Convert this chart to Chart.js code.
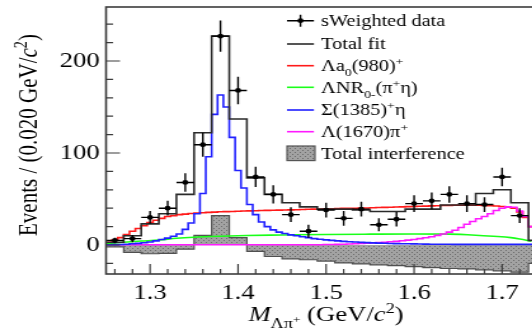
<!DOCTYPE html>
<html><head><meta charset="utf-8">
<script src="https://cdn.jsdelivr.net/npm/chart.js@4/dist/chart.umd.min.js"></script>
<style>
html,body{margin:0;padding:0;overflow:hidden;background:#fff;width:532px;height:330px;}
#wrap{width:440px;height:330px;transform:scaleX(1.27);transform-origin:0 0;}
canvas{display:block;}
</style></head><body>
<div id="wrap"><canvas id="c" width="440" height="330"></canvas></div>
<script>
// ---------------- data ----------------
const binCenters = [1.26,1.28,1.30,1.32,1.34,1.36,1.38,1.40,1.42,1.44,1.46,1.48,1.50,1.52,1.54,1.56,1.58,1.60,1.62,1.64,1.66,1.68,1.70,1.72];
const dataEvents = [5,7,30,40,68,109,227,168,74,55,33,15,38,29,39,22,28,45,48,55,45,44,74,32];
const dataErrors = [3,4,7,8,10,13,17,15,11,10,8,7,8,8,8,7,8,9,9,9,9,8,10,8];

const fitCenters = [1.26,1.28,1.30,1.32,1.34,1.36,1.38,1.40,1.42,1.44,1.46,1.48,1.50,1.52,1.54,1.56,1.58,1.60,1.62,1.64,1.66,1.68,1.70,1.72,1.74];
const totalFit = [3,10,23,34,55,122,227,137,73,55,46,41.5,39,39,38,36.5,36.5,39,39,43.5,43.5,56,60,46,5];
const totalInterference = [-2,-8,-9.5,-9,-4.5,10.5,32,8,-7,-12.5,-15,-16,-17.5,-19.5,-20.5,-21.5,-22.5,-23.5,-24.5,-25.5,-26,-27,-28,-29.5,-20];

// component curves on the fine (0.02/3) sub-bin grid, starting at 1.25
const sigma1385Eta = [0.3,0.4,0.6,0.9,1.3,1.8,2.5,3.3,4.5,6,
  7.5,9.5,12,17,24,34,56,96,142,163,
  150,117,81,62,44,33,25,20,16.5,14,
  12.5,11,10,9,8,7,6.3,5.6,5,4.5,
  4,3.6,3.2,2.9,2.6,2.3,2.1,1.9,1.7,1.5,
  1.4,1.3,1.2,1.1,1,0.9,0.9,0.8,0.8,0.7,
  0.7,0.7,0.7,0.7,0.7,0.7,0.7,0.7,0.7,0.7,
  0.7,0.7,0.7];
const lambdaA0 = [3,5.5,8,11.5,15,18,21,24.5,27,29,
  31,32,33,33.6,34.2,34.7,35.1,35.5,35.8,36.1,
  36.3,36.5,36.7,36.9,37.1,37.3,37.5,37.6,37.8,37.9,
  38,38.2,38.4,38.6,38.8,39,39.2,39.4,39.5,39.6,
  39.8,39.9,40,40.2,40.3,40.5,40.7,40.9,41.1,41.3,
  41.5,41.7,41.9,42.1,42.3,42.5,42.7,42.9,43,43.2,
  43.3,43.4,43.4,43.3,43.1,42.8,42.4,41.8,41.5,40,
  36,30,20];
const lambda1670Pi = [0.3,0.3,0.3,0.3,0.3,0.3,0.3,0.3,0.3,0.3,
  0.3,0.3,0.3,0.3,0.3,0.3,0.3,0.3,0.3,0.3,
  0.3,0.3,0.3,0.3,0.3,0.3,0.3,0.3,0.3,0.3,
  0.3,0.3,0.3,0.3,0.3,0.3,0.3,0.5,0.6,0.7,
  0.9,1.1,1.3,1.6,1.9,2.2,2.6,3.0,3.5,4,
  4.6,5.3,6,6.9,7.9,9,10.5,12,14,16,
  19,22.5,25.5,28.5,31,34,37.5,40,41.5,41,
  37,31,20];
const nrMass = [1.25,1.27,1.29,1.31,1.33,1.35,1.38,1.41,1.45,1.50,1.55,1.60,1.64,1.67,1.69,1.71,1.72,1.7333];
const nrEvents = [1.5,3,4.3,5.4,7.3,8.5,9.6,10.4,10.9,11.5,11.8,12,11.8,10.7,9.5,8,6.5,4];

const xTickValues = [1.3,1.4,1.5,1.6,1.7];
const xTickLabels = ['1.3','1.4','1.5','1.6','1.7'];
const xMinorTicks = [1.26,1.28,1.32,1.34,1.36,1.38,1.42,1.44,1.46,1.48,1.52,1.54,1.56,1.58,1.62,1.64,1.66,1.68,1.72,1.74];
const yTickValues = [0,100,200];
const yTickLabels = ['0','100','200'];
const yMinorTicks = [-20,20,40,60,80,120,140,160,180,220,240];

const legendLabels = [
  [{t:'sWeighted data'}],
  [{t:'Total fit'}],
  [{t:'Λa'},{t:'0',s:0.68,dy:0.3},{t:'(980)'},{t:'+',s:0.68,dy:-0.38}],
  [{t:'ΛNR'},{t:'0-',s:0.68,dy:0.3},{t:'(π'},{t:'+',s:0.68,dy:-0.38},{t:'η)'}],
  [{t:'Σ(1385)'},{t:'+',s:0.68,dy:-0.38},{t:'η'}],
  [{t:'Λ(1670)π'},{t:'+',s:0.68,dy:-0.38}],
  [{t:'Total interference'}]
];
const xTitle = [{t:'M',it:true},{t:'Λπ',s:0.68,dy:0.32},{t:'+',s:0.5,dy:0.08},{t:' (GeV/'},{t:'c',it:true},{t:'2',s:0.68,dy:-0.38},{t:')'}];
const yTitle = [{t:'Events / (0.020 GeV/'},{t:'c',it:true},{t:'2',s:0.68,dy:-0.38},{t:')'}];

// ---------------- helpers ----------------
const fam = "'Liberation Serif','DejaVu Serif','Times New Roman',serif";
const binHalf = 0.01;
const subHalf = 0.01/3;
const subCenters = sigma1385Eta.map((_,k)=>1.25 + (2*k+1)*subHalf);

function stepPoints(xs, ys, half){
  const pts = [{x: xs[0]-half, y: ys[0]}];
  xs.forEach((x,i)=>pts.push({x, y: ys[i]}));
  pts.push({x: xs[xs.length-1]+half, y: ys[ys.length-1]});
  return pts;
}
function pairs(xs, ys){ return xs.map((x,i)=>({x, y: ys[i]})); }
function labelFor(v, vals, labs){
  for (let i=0;i<vals.length;i++) if (Math.abs(v-vals[i])<1e-6) return labs[i];
  return '';
}
function setFont(ctx, size, it){ ctx.font = (it?'italic ':'') + size + 'px ' + fam; }
function richWidth(ctx, parts, size){
  let w = 0;
  parts.forEach(p=>{ setFont(ctx, size*(p.s||1), p.it); w += ctx.measureText(p.t).width; });
  return w;
}
function drawRich(ctx, parts, x, y, size, align){
  let cx = align==='center' ? x - richWidth(ctx, parts, size)/2 : x;
  ctx.textBaseline = 'alphabetic'; ctx.textAlign = 'left';
  parts.forEach(p=>{
    const sz = size*(p.s||1);
    setFont(ctx, sz, p.it);
    ctx.fillText(p.t, cx, y + (p.dy||0)*size);
    cx += ctx.measureText(p.t).width;
  });
}

const canvas = document.getElementById('c');
const c2d = canvas.getContext('2d');
function makePattern(){
  const t = document.createElement('canvas'); t.width = 4; t.height = 4;
  const g = t.getContext('2d');
  g.fillStyle = '#a2a2a2'; g.fillRect(0,0,4,4);
  g.fillStyle = '#6c6c6c'; g.fillRect(0,0,1,1); g.fillRect(2,2,1,1);
  return c2d.createPattern(t, 'repeat');
}
const grayPattern = makePattern();

const COL = {fit:'#2a2a2a', red:'#ff1a1a', green:'#1aff1a', blue:'#2020ff', magenta:'#ff1aff'};

const extras = {
  id: 'extras',
  afterDatasetsDraw(chart){
    const {ctx, chartArea:a, scales:{x, y}} = chart;
    ctx.save();
    // error bars
    ctx.strokeStyle = '#000'; ctx.lineWidth = 1.4;
    binCenters.forEach((c,i)=>{
      const v = dataEvents[i], e = dataErrors[i];
      const px = x.getPixelForValue(c), py = y.getPixelForValue(v);
      ctx.beginPath();
      ctx.moveTo(px, y.getPixelForValue(v+e)); ctx.lineTo(px, y.getPixelForValue(v-e));
      ctx.moveTo(x.getPixelForValue(c-binHalf), py); ctx.lineTo(x.getPixelForValue(c+binHalf), py);
      ctx.stroke();
    });
    // frame
    ctx.strokeStyle = '#3c3c3c'; ctx.lineWidth = 1.6;
    ctx.strokeRect(a.left, a.top, a.right-a.left, a.bottom-a.top);
    // ticks (inward)
    ctx.lineWidth = 1.2;
    ctx.beginPath();
    xTickValues.forEach(v=>{ const px=x.getPixelForValue(v); ctx.moveTo(px,a.bottom); ctx.lineTo(px,a.bottom-10); });
    xMinorTicks.forEach(v=>{ const px=x.getPixelForValue(v); ctx.moveTo(px,a.bottom); ctx.lineTo(px,a.bottom-5); });
    yTickValues.forEach(v=>{ const py=y.getPixelForValue(v); ctx.moveTo(a.left,py); ctx.lineTo(a.left+11,py); });
    yMinorTicks.forEach(v=>{ const py=y.getPixelForValue(v); ctx.moveTo(a.left,py); ctx.lineTo(a.left+5.5,py); });
    ctx.stroke();
    // legend
    const lx0 = 226, lx1 = 247.2, tx = 252.8;
    const rows = [20.7, 44, 65.7, 87.3, 110, 131.7, 153.3];
    const styles = ['data', COL.fit, COL.red, COL.green, COL.blue, COL.magenta, 'box'];
    rows.forEach((ry,i)=>{
      const st = styles[i];
      if (st === 'data'){
        ctx.strokeStyle = '#000'; ctx.lineWidth = 1.4;
        ctx.beginPath(); ctx.moveTo(lx0, ry); ctx.lineTo(lx1, ry);
        const mx = (lx0+lx1)/2; ctx.moveTo(mx, ry-6); ctx.lineTo(mx, ry+6); ctx.stroke();
        ctx.fillStyle = '#000'; ctx.beginPath(); ctx.arc(mx, ry, 2.4, 0, Math.PI*2); ctx.fill();
      } else if (st === 'box'){
        ctx.fillStyle = grayPattern; ctx.fillRect(lx0, ry-7.3, lx1-lx0+0.8, 14.6);
        ctx.strokeStyle = '#555'; ctx.lineWidth = 1.2; ctx.strokeRect(lx0, ry-7.3, lx1-lx0+0.8, 14.6);
      } else {
        ctx.strokeStyle = st; ctx.lineWidth = 1.6;
        ctx.beginPath(); ctx.moveTo(lx0, ry); ctx.lineTo(lx1, ry); ctx.stroke();
      }
      ctx.fillStyle = '#000';
      drawRich(ctx, legendLabels[i], tx, ry+5.4, 16, 'left');
    });
    // axis titles
    ctx.fillStyle = '#000';
    drawRich(ctx, xTitle, 256.7, 321, 21, 'center');
    ctx.save();
    ctx.translate(28.7, 135);
    ctx.rotate(-Math.PI/2);
    drawRich(ctx, yTitle, 0, 0, 21, 'center');
    ctx.restore();
    ctx.restore();
  }
};

new Chart(canvas, {
  type: 'line',
  data: { datasets: [
    { type:'scatter', label:'sWeighted data', data: pairs(binCenters, dataEvents), showLine:false,
      pointRadius:2.4, pointBackgroundColor:'#000', pointBorderWidth:0, order:0 },
    { label:'Total fit', data: stepPoints(fitCenters, totalFit, binHalf), stepped:'middle',
      borderColor:COL.fit, borderWidth:1.6, pointRadius:0, fill:false, order:1 },
    { label:'Σ(1385)+η', data: stepPoints(subCenters, sigma1385Eta, subHalf), stepped:'middle',
      borderColor:COL.blue, borderWidth:1.6, pointRadius:0, fill:false, order:2 },
    { label:'Λ(1670)π+', data: stepPoints(subCenters, lambda1670Pi, subHalf), stepped:'middle',
      borderColor:COL.magenta, borderWidth:1.6, pointRadius:0, fill:false, order:3 },
    { label:'Λa0(980)+', data: stepPoints(subCenters, lambdaA0, subHalf), stepped:'middle',
      borderColor:COL.red, borderWidth:1.6, pointRadius:0, fill:false, order:4 },
    { label:'ΛNR', data: pairs(nrMass, nrEvents), cubicInterpolationMode:'monotone',
      borderColor:COL.green, borderWidth:1.6, pointRadius:0, fill:false, order:5 },
    { label:'Total interference', data: stepPoints(fitCenters, totalInterference, binHalf), stepped:'middle',
      borderColor:'#505050', borderWidth:1.2, backgroundColor:grayPattern, pointRadius:0, fill:'origin', order:6 }
  ]},
  options: {
    responsive:false, animation:false, devicePixelRatio:1,
    layout:{ padding:{ left:0, right:10, top:7, bottom:0 } },
    plugins:{ legend:{display:false}, tooltip:{enabled:false} },
    scales:{
      x:{ type:'linear', min:1.25, max:1.75,
        grid:{display:false, drawTicks:false}, border:{display:false},
        afterBuildTicks:s=>{ s.ticks = xTickValues.map(v=>({value:v})); },
        ticks:{ callback:v=>labelFor(v, xTickValues, xTickLabels), font:{family:fam, size:21}, color:'#000',
                padding:7, maxRotation:0, autoSkip:false },
        afterFit:s=>{ s.height = 56; s.paddingLeft = 0; s.paddingRight = 0; } },
      y:{ type:'linear', min:-31.5, max:258.7,
        grid:{display:false, drawTicks:false}, border:{display:false},
        afterBuildTicks:s=>{ s.ticks = yTickValues.map(v=>({value:v})); },
        ticks:{ callback:v=>labelFor(v, yTickValues, yTickLabels), font:{family:fam, size:21}, color:'#000', padding:5 },
        afterFit:s=>{ s.width = 83.5; s.paddingTop = 0; s.paddingBottom = 0; } }
    }
  },
  plugins:[extras]
});
</script>
</body></html>
